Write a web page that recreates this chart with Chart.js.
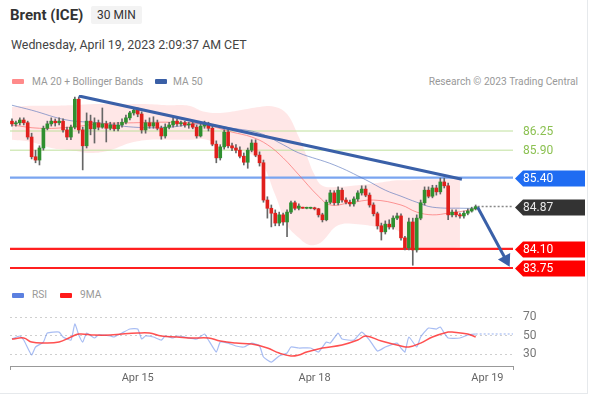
<!DOCTYPE html>
<html>
<head>
<meta charset="utf-8">
<script src="https://cdn.jsdelivr.net/npm/chart.js@4.4.0/dist/chart.umd.min.js"></script>
<style>
  body { margin: 0; background: #fff; font-family: Roboto, "Liberation Sans", Arial, sans-serif; }
  #wrap { position: relative; width: 589px; height: 398px; overflow: hidden; }
  #frame { position: absolute; left: 0; top: 0; width: 587px; height: 393px; border-right: 1px solid #e6e9ec; border-bottom: 1px solid #e6e9ec; }
  canvas { position: absolute; left: 0; }
  .txt { position: absolute; white-space: nowrap; }
  #title { left: 10px; top: 6px; font-size: 15px; font-weight: bold; color: #333; }
  #tf { left: 91px; top: 6px; font-size: 12px; color: #333; background: #f3f3f3; padding: 2px 6px; border-radius: 2px; }
  #date { left: 11px; top: 37px; font-size: 12.4px; color: #444; }
  .leg { font-size: 10.2px; color: #999; }
  .sw { position: absolute; width: 12px; height: 5px; border-radius: 1px; }
</style>
</head>
<body>
<div id="wrap">
  <div id="frame"></div>
  <div class="txt" id="title">Brent (ICE)</div>
  <div class="txt" id="tf">30 MIN</div>
  <div class="txt" id="date">Wednesday, April 19, 2023 2:09:37 AM CET</div>

  <div class="sw" style="left:12px;top:79px;background:#ff8a8a"></div>
  <div class="txt leg" style="left:32px;top:76px">MA 20 + Bollinger Bands</div>
  <div class="sw" style="left:155px;top:79px;background:#3a5fa6"></div>
  <div class="txt leg" style="left:173px;top:76px">MA 50</div>
  <div class="txt leg" style="right:11px;top:76px">Research © 2023 Trading Central</div>

  <div class="sw" style="left:12px;top:293px;background:#5b80e0"></div>
  <div class="txt leg" style="left:32px;top:289px">RSI</div>
  <div class="sw" style="left:60px;top:293px;background:#ff1a1a"></div>
  <div class="txt leg" style="left:80px;top:289px">9MA</div>

  <canvas id="price" width="589" height="398" style="top:0"></canvas>
  <canvas id="rsi" width="589" height="118" style="top:280px"></canvas>
</div>
<script>
// 30 min candles, index 0 = first visible bar
var opens = [86.43, 86.38, 86.40, 86.45, 86.40, 86.14, 85.78, 85.72, 85.94, 86.30,
  86.38, 86.43, 86.40, 86.43, 86.27, 86.14, 86.32, 86.83, 86.27, 85.98,
  86.43, 86.29, 86.40, 86.32, 86.38, 86.30, 86.36, 86.29, 86.36, 86.41,
  86.49, 86.58, 86.63, 86.56, 86.27, 86.40, 86.34, 86.40, 86.30, 86.16,
  86.32, 86.36, 86.43, 86.38, 86.40, 86.36, 86.38, 86.32, 86.16, 86.34,
  86.38, 86.30, 86.01, 85.76, 85.96, 86.23, 85.98, 85.94, 85.90, 85.79,
  85.68, 85.90, 86.03, 85.81, 85.67, 84.99, 84.84, 84.75, 84.57, 84.72,
  84.59, 84.77, 84.94, 84.84, 84.86, 84.84, 84.84, 84.84, 84.83, 84.72,
  84.63, 84.95, 85.12, 84.94, 85.17, 84.99, 84.95, 84.92, 85.01, 85.12,
  85.19, 85.08, 84.90, 84.74, 84.52, 84.41, 84.55, 84.50, 84.66, 84.70,
  84.30, 84.12, 84.59, 84.08, 84.66, 84.94, 85.17, 85.06, 85.21, 85.14,
  85.32, 85.25, 84.72, 84.77, 84.72, 84.70, 84.75, 84.79, 84.83];
var closes = [86.38, 86.40, 86.45, 86.40, 86.14, 85.78, 85.72, 85.94, 86.30, 86.38,
  86.43, 86.40, 86.43, 86.27, 86.14, 86.32, 86.83, 86.27, 85.98, 86.43,
  86.29, 86.40, 86.32, 86.38, 86.30, 86.36, 86.29, 86.36, 86.41, 86.49,
  86.58, 86.63, 86.56, 86.27, 86.40, 86.34, 86.40, 86.30, 86.16, 86.32,
  86.36, 86.43, 86.38, 86.40, 86.36, 86.38, 86.32, 86.16, 86.34, 86.38,
  86.30, 86.01, 85.76, 85.96, 86.23, 85.98, 85.94, 85.90, 85.79, 85.68,
  85.90, 86.03, 85.81, 85.67, 84.99, 84.84, 84.75, 84.57, 84.72, 84.59,
  84.77, 84.94, 84.84, 84.88, 84.84, 84.85, 84.84, 84.83, 84.72, 84.63,
  84.95, 85.12, 84.94, 85.17, 84.99, 84.95, 84.92, 85.01, 85.12, 85.19,
  85.08, 84.90, 84.74, 84.52, 84.41, 84.55, 84.50, 84.66, 84.70, 84.30,
  84.12, 84.59, 84.08, 84.66, 84.94, 85.17, 85.06, 85.21, 85.14, 85.32,
  85.25, 84.72, 84.77, 84.72, 84.70, 84.75, 84.79, 84.83, 84.87];
var highs = [86.47, 86.43, 86.49, 86.49, 86.43, 86.21, 85.90, 85.98, 86.34, 86.43,
  86.49, 86.47, 86.49, 86.47, 86.32, 86.36, 86.87, 86.87, 86.32, 86.58,
  86.54, 86.49, 86.45, 86.67, 86.43, 86.41, 86.40, 86.41, 86.47, 86.54,
  86.61, 86.67, 86.67, 86.60, 86.45, 86.49, 86.51, 86.45, 86.34, 86.38,
  86.41, 86.49, 86.47, 86.43, 86.43, 86.41, 86.41, 86.36, 86.38, 86.43,
  86.41, 86.36, 86.07, 86.00, 86.27, 86.27, 86.03, 86.00, 85.96, 85.85,
  85.94, 86.09, 86.09, 85.87, 85.72, 85.05, 84.90, 84.81, 84.77, 84.75,
  84.81, 84.97, 84.97, 84.92, 84.86, 84.86, 84.86, 84.86, 84.84, 84.75,
  84.99, 85.17, 85.16, 85.23, 85.21, 85.03, 84.99, 85.05, 85.16, 85.25,
  85.25, 85.12, 84.94, 84.77, 84.57, 84.61, 84.63, 84.70, 84.75, 84.74,
  84.33, 84.66, 84.66, 84.72, 84.99, 85.23, 85.23, 85.26, 85.26, 85.39,
  85.39, 85.30, 84.81, 84.81, 84.75, 84.79, 84.83, 84.86, 84.90];
var lows = [86.34, 86.34, 86.36, 86.36, 86.10, 85.74, 85.67, 85.63, 85.90, 86.27,
  86.34, 86.34, 86.36, 86.23, 86.09, 86.09, 86.29, 86.21, 85.54, 85.94,
  86.18, 86.03, 86.27, 86.30, 86.05, 86.27, 86.25, 86.25, 86.32, 86.38,
  86.45, 86.54, 86.51, 86.21, 86.21, 86.30, 86.30, 86.27, 86.10, 86.12,
  86.29, 86.32, 86.34, 86.34, 86.32, 86.30, 86.29, 86.12, 86.14, 86.30,
  86.25, 85.98, 85.67, 85.72, 85.92, 85.94, 85.89, 85.85, 85.76, 85.63,
  85.57, 85.87, 85.78, 85.61, 84.95, 84.66, 84.50, 84.52, 84.52, 84.53,
  84.32, 84.74, 84.81, 84.81, 84.84, 84.83, 84.83, 84.81, 84.68, 84.59,
  84.61, 84.92, 84.90, 84.90, 84.95, 84.92, 84.88, 84.88, 84.97, 85.08,
  85.05, 84.86, 84.70, 84.46, 84.26, 84.37, 84.46, 84.46, 84.63, 84.26,
  84.08, 84.08, 83.80, 84.04, 84.63, 84.90, 85.03, 85.03, 85.08, 85.10,
  85.21, 84.63, 84.68, 84.68, 84.66, 84.66, 84.72, 84.77, 84.81];

var ma20Idx = [0, 7, 15, 22, 31, 40, 48, 56, 61, 65, 69, 73, 78, 81, 86, 92, 99, 103, 107, 111, 115, 118];
var ma20Val = [86.36, 86.30, 86.32, 86.38, 86.40, 86.41, 86.38, 86.23, 86.14, 86.00, 85.76, 85.45, 85.06, 84.90, 84.94, 84.99, 84.90, 84.77, 84.72, 84.75, 84.79, 84.83];
var ma50Idx = [0, 5, 14, 22, 31, 40, 48, 56, 63, 69, 73, 82, 90, 95, 99, 103, 107, 115, 118];
var ma50Val = [86.72, 86.63, 86.45, 86.40, 86.32, 86.32, 86.38, 86.30, 86.21, 86.00, 85.85, 85.63, 85.36, 85.17, 85.06, 84.95, 84.86, 84.84, 84.84];
var bandIdx = [0, 5, 10, 15, 20, 25, 30, 35, 40, 45, 49, 53, 58, 63, 67, 70, 73, 75, 77, 79, 83, 88, 93, 98, 101, 103, 108, 114];
var bandUpper = [86.69, 86.71, 86.71, 86.72, 86.74, 86.74, 86.74, 86.74, 86.72, 86.71, 86.60, 86.58, 86.63, 86.69, 86.69, 86.56, 86.14, 85.80, 85.45, 85.25, 85.23, 85.26, 85.30, 85.35, 85.35, 85.36, 85.37, 85.37];
var bandLower = [86.09, 86.05, 85.94, 85.90, 85.85, 85.90, 86.03, 86.09, 86.09, 86.09, 86.10, 86.00, 85.90, 85.72, 85.08, 84.53, 84.30, 84.19, 84.17, 84.24, 84.53, 84.55, 84.50, 84.44, 84.20, 84.12, 84.11, 84.12];

// support / resistance levels
var levelValues = [86.25, 85.90, 85.40, 84.87, 84.10, 83.75];
var levelKinds = ['green', 'green', 'blue', 'last', 'red', 'red'];

var trendIdx = [17, 114.5];
var trendVal = [86.89, 85.37];
var arrowIdx = [118.5, 125.7];
var arrowVal = [84.86, 83.90];

var rsiIdx = [0, 2, 3, 5, 6, 8, 9, 12, 13, 15, 16, 17, 18, 19, 21, 22, 25, 26, 28, 30,
  32, 33, 34, 36, 38, 39, 41, 42, 44, 47, 49, 50, 52, 53, 55, 57, 59, 61, 63, 64,
  66, 68, 70, 71, 73, 76, 78, 80, 81, 83, 84, 87, 89, 91, 93, 95, 98, 99, 100, 101,
  103, 104, 106, 108, 109, 110, 111, 114, 116, 118];
var rsiVal = [46.4, 49.7, 45.3, 29.0, 37.7, 43.1, 52.9, 54.0, 48.6, 45.3, 62.8, 50.8, 43.1, 52.9, 47.5, 50.8, 49.7, 48.6, 52.9, 57.3,
  57.3, 46.4, 49.7, 48.6, 45.3, 49.7, 47.5, 49.7, 48.6, 46.4, 51.9, 45.3, 32.2, 43.1, 42.0, 38.8, 37.7, 42.0, 38.8, 26.8,
  21.3, 27.9, 31.1, 37.7, 36.6, 36.6, 32.2, 43.1, 42.0, 52.9, 46.4, 45.3, 54.0, 45.3, 33.3, 37.7, 42.0, 36.6, 32.2, 48.6,
  37.7, 48.6, 58.4, 57.3, 59.5, 52.9, 47.5, 47.5, 50.8, 51.9];
var rsiMaIdx = [0, 3, 5, 8, 12, 15, 17, 21, 25, 28, 32, 35, 38, 42, 46, 50, 53, 57, 61, 65,
  68, 71, 73, 75, 79, 84, 88, 90, 94, 99, 101, 104, 107, 111, 112, 116, 118];
var rsiMaVal = [46.4, 47.5, 43.1, 42.0, 43.1, 48.6, 51.9, 50.8, 50.8, 51.9, 52.9, 52.9, 49.7, 48.6, 47.5, 47.5, 44.2, 42.0, 40.9, 36.6,
  31.1, 27.9, 29.0, 32.2, 36.6, 39.9, 45.3, 49.7, 44.2, 38.8, 37.7, 42.0, 48.6, 54.0, 54.0, 51.9, 48.6];
var rsiTicks = [30, 50, 70];

var tickIdx = [32, 77, 121];
var tickLabels = ['Apr 15', 'Apr 18', 'Apr 19'];

var xMin = -0.5, xMax = 127.5;
var green = '#2f8f2f', red = '#e0201c';
var font = 'Roboto, "Liberation Sans", Arial, sans-serif';

function pts(xs, ys) {
    return xs.map(function(x, i) { return {x: x, y: ys[i]}; });
}

var last = opens.length - 1;
var wickData = opens.map(function(o, i) { return {x: i, y: [lows[i], highs[i]]}; });
var bodyData = opens.map(function(o, i) { return {x: i, y: [o, closes[i]]}; });
var bodyColors = opens.map(function(o, i) { return closes[i] >= o ? green : red; });

var levelColors = {green: '#bfe09c', blue: '#7aa5f0', red: '#ff2020'};
var tagColors = {blue: '#1f6cf2', last: '#333333', red: '#ff0000'};

var levelSets = [];
levelValues.forEach(function(v, k) {
    var kind = levelKinds[k];
    if (kind === 'last') {
        levelSets.push({type: 'line', data: [{x: last + 0.5, y: v}, {x: xMax, y: v}],
            borderColor: '#888', borderWidth: 1.5, borderDash: [2, 2], pointRadius: 0, order: 3});
    } else {
        levelSets.push({type: 'line', data: [{x: xMin, y: v}, {x: xMax + 0.6, y: v}],
            borderColor: levelColors[kind], borderWidth: kind === 'green' ? 1 : 2.2, pointRadius: 0, order: 15});
    }
});

var levelTags = {
    id: 'levelTags',
    afterDraw: function(chart) {
        var ctx = chart.ctx, ys = chart.scales.y;
        var l = chart.chartArea.right + 2, r = chart.width - 4, tx = chart.chartArea.right + 10;
        ctx.save();
        ctx.font = '12px ' + font;
        ctx.textBaseline = 'middle';
        levelValues.forEach(function(v, k) {
            var py = Math.round(ys.getPixelForValue(v)) + 0.5;
            var kind = levelKinds[k];
            var text = v.toFixed(2);
            if (kind === 'green') {
                ctx.fillStyle = '#8cc152';
                ctx.fillText(text, tx, py);
                return;
            }
            ctx.fillStyle = tagColors[kind];
            ctx.beginPath();
            ctx.moveTo(l, py);
            ctx.lineTo(l + 8, py - 8);
            ctx.lineTo(r, py - 8);
            ctx.lineTo(r, py + 8);
            ctx.lineTo(l + 8, py + 8);
            ctx.closePath();
            ctx.fill();
            ctx.fillStyle = kind === 'last' ? '#e8e8e8' : '#fff';
            ctx.fillText(text, tx, py + 0.5);
        });
        ctx.restore();
    }
};

var priceConfig = {
    type: 'bar',
    data: {
        datasets: [
            {type: 'line', data: pts(bandIdx, bandUpper), borderWidth: 0, pointRadius: 0, tension: 0.4,
             fill: '+1', backgroundColor: 'rgba(255,60,60,0.12)', order: 20},
            {type: 'line', data: pts(bandIdx, bandLower), borderWidth: 0, pointRadius: 0, tension: 0.4, order: 20},
            {type: 'line', data: pts(ma20Idx, ma20Val), borderColor: 'rgba(250,90,90,0.6)', borderWidth: 1,
             pointRadius: 0, tension: 0.4, order: 12},
            {type: 'line', data: pts(ma50Idx, ma50Val), borderColor: 'rgba(80,110,185,0.6)', borderWidth: 1,
             pointRadius: 0, tension: 0.4, order: 12},
            {data: wickData, backgroundColor: '#666', barThickness: 1, grouped: false, order: 6},
            {data: bodyData, backgroundColor: bodyColors, barThickness: 3, grouped: false, minBarLength: 1, order: 5},
            {type: 'line', data: pts(trendIdx, trendVal), borderColor: '#3a60a8', borderWidth: 3,
             pointRadius: 0, order: 1},
            {type: 'line', data: pts(arrowIdx, arrowVal), borderColor: '#3a60a8', borderWidth: 3,
             pointRadius: [0, 8], pointStyle: 'triangle', pointRotation: 152,
             pointBackgroundColor: '#3a60a8', pointBorderWidth: 0, order: 1, clip: false}
        ].concat(levelSets)
    },
    options: {
        responsive: false,
        animation: false,
        layout: {padding: {left: 10, right: 76, top: 95, bottom: 122}},
        plugins: {legend: {display: false}, tooltip: {enabled: false}},
        scales: {
            x: {type: 'linear', display: false, min: xMin, max: xMax, offset: false, grid: {offset: false}},
            y: {display: false, min: 83.604, max: 86.907}
        }
    },
    plugins: [levelTags]
};

var rsiConfig = {
    type: 'line',
    data: {
        datasets: [
            {data: pts(rsiMaIdx, rsiMaVal), borderColor: 'rgba(255,50,50,0.85)', borderWidth: 1.5,
             pointRadius: 0, tension: 0.4},
            {data: pts(rsiIdx, rsiVal), borderColor: 'rgba(110,145,235,0.6)', borderWidth: 1.2,
             pointRadius: 0, tension: 0.15},
            {data: [{x: rsiIdx[rsiIdx.length - 1], y: rsiVal[rsiVal.length - 1]}, {x: xMax + 1, y: rsiVal[rsiVal.length - 1]}],
             borderColor: 'rgba(110,145,235,0.7)', borderWidth: 1, borderDash: [2, 2], pointRadius: 0}
        ]
    },
    options: {
        responsive: false,
        animation: false,
        layout: {padding: {left: 10, right: 0, top: 25, bottom: 8}},
        plugins: {legend: {display: false}, tooltip: {enabled: false}},
        scales: {
            x: {
                type: 'linear', min: xMin, max: xMax,
                afterBuildTicks: function(s) {
                    s.ticks = [xMin].concat(tickIdx, [xMax]).map(function(v) { return {value: v}; });
                },
                afterFit: function(s) { s.height = 24; },
                ticks: {
                    autoSkip: false, maxRotation: 0, padding: 2, color: '#666',
                    font: {size: 11, family: font},
                    callback: function(v) {
                        var k = tickIdx.indexOf(v);
                        return k < 0 ? '' : tickLabels[k];
                    }
                },
                grid: {
                    drawOnChartArea: false, tickLength: 4,
                    color: function(c) {
                        var v = c.tick ? c.tick.value : null;
                        return (v === xMin || v === xMax) ? '#999' : 'rgba(0,0,0,0)';
                    }
                },
                border: {color: '#999', width: 1}
            },
            y: {
                position: 'right', min: 17, max: 83.5,
                afterBuildTicks: function(s) {
                    s.ticks = rsiTicks.map(function(v) { return {value: v}; });
                },
                afterFit: function(s) { s.width = 76; },
                ticks: {padding: 10, color: '#777', font: {size: 12, family: font}},
                grid: {color: '#cfcfcf', drawTicks: false},
                border: {display: false, dash: [2, 3]}
            }
        }
    }
};

window.onload = function() {
    window.priceChart = new Chart(document.getElementById('price').getContext('2d'), priceConfig);
    window.rsiChart = new Chart(document.getElementById('rsi').getContext('2d'), rsiConfig);
};
</script>
</body>
</html>
